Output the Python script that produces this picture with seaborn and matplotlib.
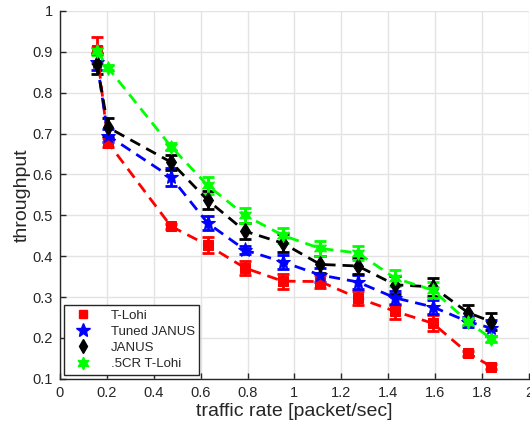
import matplotlib
matplotlib.use("Agg")
import matplotlib.pyplot as plt
import seaborn as sns
import pandas as pd
import numpy as np
from matplotlib.lines import Line2D

# ---- data ----
rate = [0.158, 0.205, 0.474, 0.63, 0.79, 0.95, 1.11, 1.27, 1.43, 1.59, 1.74, 1.84]

tlohi = [0.905, 0.678, 0.473, 0.427, 0.371, 0.339, 0.338, 0.298, 0.265, 0.236, 0.163, 0.130]
tlohi_err = [0.032, 0.010, 0.006, 0.020, 0.018, 0.018, 0.015, 0.018, 0.018, 0.020, 0.006, 0.006]

tuned = [0.875, 0.695, 0.593, 0.481, 0.415, 0.386, 0.354, 0.337, 0.298, 0.276, 0.240, 0.224]
tuned_err = [0.020, 0.015, 0.022, 0.018, 0.010, 0.018, 0.018, 0.018, 0.018, 0.018, 0.012, 0.020]

janus = [0.871, 0.715, 0.630, 0.537, 0.461, 0.432, 0.380, 0.376, 0.330, 0.325, 0.262, 0.240]
janus_err = [0.025, 0.022, 0.018, 0.022, 0.020, 0.022, 0.020, 0.020, 0.022, 0.022, 0.018, 0.020]

cr5 = [0.902, 0.861, 0.668, 0.573, 0.500, 0.451, 0.419, 0.408, 0.346, 0.317, 0.240, 0.198]
cr5_err = [0.010, 0.006, 0.008, 0.020, 0.018, 0.018, 0.018, 0.018, 0.020, 0.020, 0.008, 0.008]

names = ["T-Lohi", "Tuned JANUS", "JANUS", ".5CR T-Lohi"]
colors = ["#ff0000", "#0000ff", "#000000", "#00ff00"]
markers = ["s", "*", "d", (6, 1, 0)]
msizes = [7, 11, 8, 10]

series = [tlohi, tuned, janus, cr5]
errs = [tlohi_err, tuned_err, janus_err, cr5_err]

sns.set_theme(style="whitegrid")
plt.rcParams['font.family'] = ['Liberation Sans', 'DejaVu Sans']

fig = plt.figure(figsize=(5.30, 4.34), dpi=100)
ax = fig.add_axes([0.113, 0.127, 0.885, 0.848])

for name, vals, err, c, m, ms in zip(names, series, errs, colors, markers, msizes):
    df = pd.DataFrame({"rate": rate, "thr": vals})
    ax.errorbar(rate, vals, yerr=err, fmt="none", ecolor=c, elinewidth=2,
                capsize=4, capthick=2, zorder=2)
    sns.lineplot(data=df, x="rate", y="thr", ax=ax, color=c, linestyle=(0, (4, 2.5)),
                 linewidth=2, marker=m, markersize=ms, markeredgecolor=c,
                 markerfacecolor=c, label=name, zorder=3)

ax.set_xlim(0, 2)
ax.set_ylim(0.1, 1.0)
ax.set_xticks(np.arange(0, 2.01, 0.2))
ax.set_xticklabels(["0", "0.2", "0.4", "0.6", "0.8", "1", "1.2", "1.4", "1.6", "1.8", "2"])
ax.set_yticks(np.arange(0.1, 1.001, 0.1))
ax.set_yticklabels(["0.1", "0.2", "0.3", "0.4", "0.5", "0.6", "0.7", "0.8", "0.9", "1"])

ax.grid(True, color="#e3e3e3", linewidth=1)
ax.set_facecolor("white")
for s in ["top", "right"]:
    ax.spines[s].set_visible(False)
for s in ["left", "bottom"]:
    ax.spines[s].set_visible(True)
    ax.spines[s].set_color("#262626")
    ax.spines[s].set_linewidth(1)

ax.tick_params(axis="both", direction="in", length=4, width=1, colors="#262626",
               labelsize=10.5, left=True, bottom=True, pad=5)
ax.set_xlabel("traffic rate [packet/sec]", fontsize=14, color="#262626", labelpad=2)
ax.set_ylabel("throughput", fontsize=14, color="#262626", labelpad=1)

hs = [Line2D([], [], linestyle="none", marker=m, color=c, markersize=s)
      for m, c, s in zip(markers, colors, [6, 10, 7, 9])]
leg = ax.legend(hs, names, loc="lower left", bbox_to_anchor=(0.0, 0.0),
                fontsize=9.5, frameon=True, fancybox=False, framealpha=1,
                edgecolor="#262626", handlelength=2.2, handletextpad=1.0,
                labelspacing=0.3, borderpad=0.35, borderaxespad=0.3)
leg.get_frame().set_linewidth(1)

fig.savefig("out.png", dpi=100)
